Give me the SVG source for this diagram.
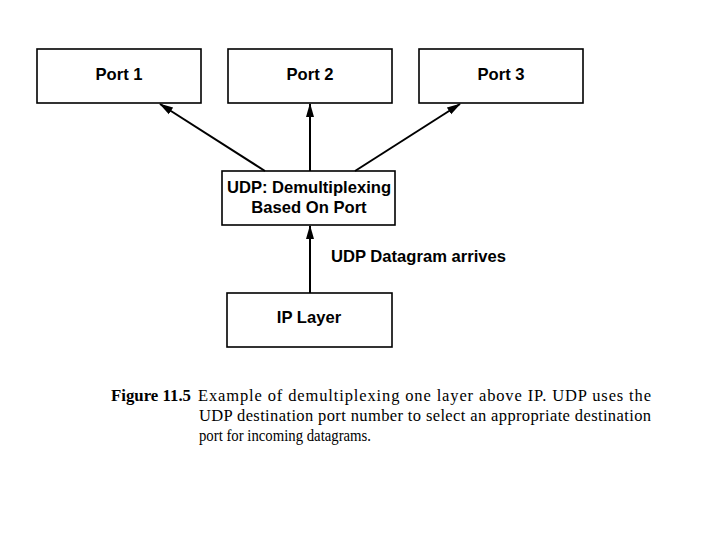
<svg xmlns="http://www.w3.org/2000/svg" width="720" height="540" viewBox="0 0 720 540">
<style>
.box{fill:#fff;stroke:#000;stroke-width:1.6}
.lbl{font-family:"Liberation Sans",Arial,Helvetica,sans-serif;font-weight:bold;font-size:16.6px;fill:#000;text-anchor:middle}
.edge{stroke:#000;stroke-width:2;fill:none;marker-end:url(#ah)}
.cap{font-family:"Liberation Serif","Times New Roman",serif;font-size:16.5px;fill:#000}
</style>
<defs>
<marker id="ah" markerWidth="14" markerHeight="10" refX="13" refY="5" orient="auto" markerUnits="userSpaceOnUse">
<path d="M0,1 L14,5 L0,9 Z" fill="#000"/>
</marker>
</defs>
<rect width="720" height="540" fill="#fff"/>
<g id="port1"><rect class="box" x="37" y="49" width="164" height="54"/><text class="lbl" x="119" y="80">Port 1</text></g>
<g id="port2"><rect class="box" x="228" y="49" width="164" height="54"/><text class="lbl" x="310" y="80">Port 2</text></g>
<g id="port3"><rect class="box" x="419" y="49" width="164" height="54"/><text class="lbl" x="501" y="80">Port 3</text></g>
<g id="udp"><rect class="box" x="222" y="171" width="173" height="54"/><text class="lbl" x="309" y="193">UDP: Demultiplexing</text><text class="lbl" x="309" y="213">Based On Port</text></g>
<g id="ip"><rect class="box" x="227" y="293" width="165" height="54"/><text class="lbl" x="309" y="323">IP Layer</text></g>
<g id="connectors">
<line class="edge" x1="265" y1="171" x2="160" y2="104"/>
<line class="edge" x1="310" y1="171" x2="310" y2="104"/>
<line class="edge" x1="355" y1="171" x2="460" y2="104"/>
<line class="edge" x1="310" y1="293" x2="310" y2="226"/>
<text class="lbl" x="331" y="262" style="text-anchor:start">UDP Datagram arrives</text>
</g>
<g id="caption">
<text class="cap" x="111" y="401" font-weight="bold" textLength="80" lengthAdjust="spacingAndGlyphs">Figure 11.5</text>
<text class="cap" x="198" y="401" textLength="453" lengthAdjust="spacing">Example of demultiplexing one layer above IP.  UDP uses the</text>
<text class="cap" x="199" y="421" textLength="452" lengthAdjust="spacing">UDP destination port number to select an appropriate destination</text>
<text class="cap" x="199" y="441" textLength="172" lengthAdjust="spacingAndGlyphs">port for incoming datagrams.</text>
</g>
</svg>
